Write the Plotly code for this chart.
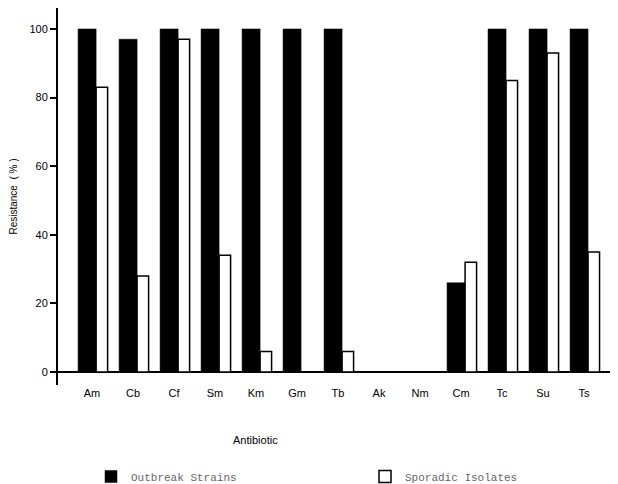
import plotly.graph_objects as go

antibiotics = ["Am", "Cb", "Cf", "Sm", "Km", "Gm", "Tb", "Ak", "Nm", "Cm", "Tc", "Su", "Ts"]
outbreak = [100, 97, 100, 100, 100, 100, 100, 0, 0, 26, 100, 100, 100]
sporadic = [83, 28, 97, 34, 6, 0, 6, 0, 0, 32, 85, 93, 35]
y_ticks = [0, 20, 40, 60, 80, 100]

FONT = "Liberation Sans, Arial, sans-serif"
MONO = "Liberation Mono, Courier New, monospace"

# page body has an 8px margin, so the figure is drawn at (8, 8)
OFF = 8
W, H = 618 - OFF, 484 - OFF
L, T, B = 58 - OFF, 8 - OFF, 484 - 385
PLOT_W = W - L
PLOT_H = H - T - B


def px_x(x):
    return (x - OFF - L) / PLOT_W


def px_y(y):
    return (H - B - (y - OFF)) / PLOT_H


fig = go.Figure()
fig.add_trace(go.Bar(
    x=antibiotics, y=outbreak, name="Outbreak Strains",
    marker=dict(color="black", line=dict(color="black", width=0.5)),
    offset=-0.34, width=0.44,
))
fig.add_trace(go.Bar(
    x=antibiotics, y=sporadic, name="Sporadic Isolates",
    marker=dict(color="white", line=dict(color="black", width=1.5)),
    offset=0.1, width=0.28,
))

fig.update_layout(
    width=W, height=H,
    margin=dict(l=L, r=0, t=T, b=B, autoexpand=False),
    plot_bgcolor="white", paper_bgcolor="white",
    barmode="overlay",
    font=dict(family=FONT, color="black", size=11),
    showlegend=True,
    legend=dict(
        orientation="h", x=px_x(91), xanchor="left",
        y=px_y(462), yanchor="top",
        font=dict(family=MONO, size=11, color="#666"),
        entrywidth=229, entrywidthmode="pixels",
        bgcolor="rgba(0,0,0,0)",
    ),
    annotations=[
        dict(text="Antibiotic", xref="paper", yref="paper",
             x=px_x(255), y=px_y(440),
             xanchor="center", yanchor="middle", showarrow=False,
             font=dict(family=FONT, size=11, color="black")),
    ],
)

fig.update_xaxes(
    type="category", range=[-0.83, 12.83],
    showline=False, showgrid=False, zeroline=False,
    ticks="", tickfont=dict(family=FONT, size=11, color="black"),
)
fig.update_yaxes(
    range=[-3.8, 106.1],
    tickvals=y_ticks, ticks="outside", ticklen=6, tickwidth=1.5, tickcolor="black",
    showline=True, linecolor="black", linewidth=2,
    showgrid=False, zeroline=True, zerolinecolor="black", zerolinewidth=2,
    tickfont=dict(family=FONT, size=11, color="black"),
    title=dict(text="Resistance  ( % )", font=dict(family=FONT, size=10, color="black"),
               standoff=14),
)

fig.write_html("out.html")
